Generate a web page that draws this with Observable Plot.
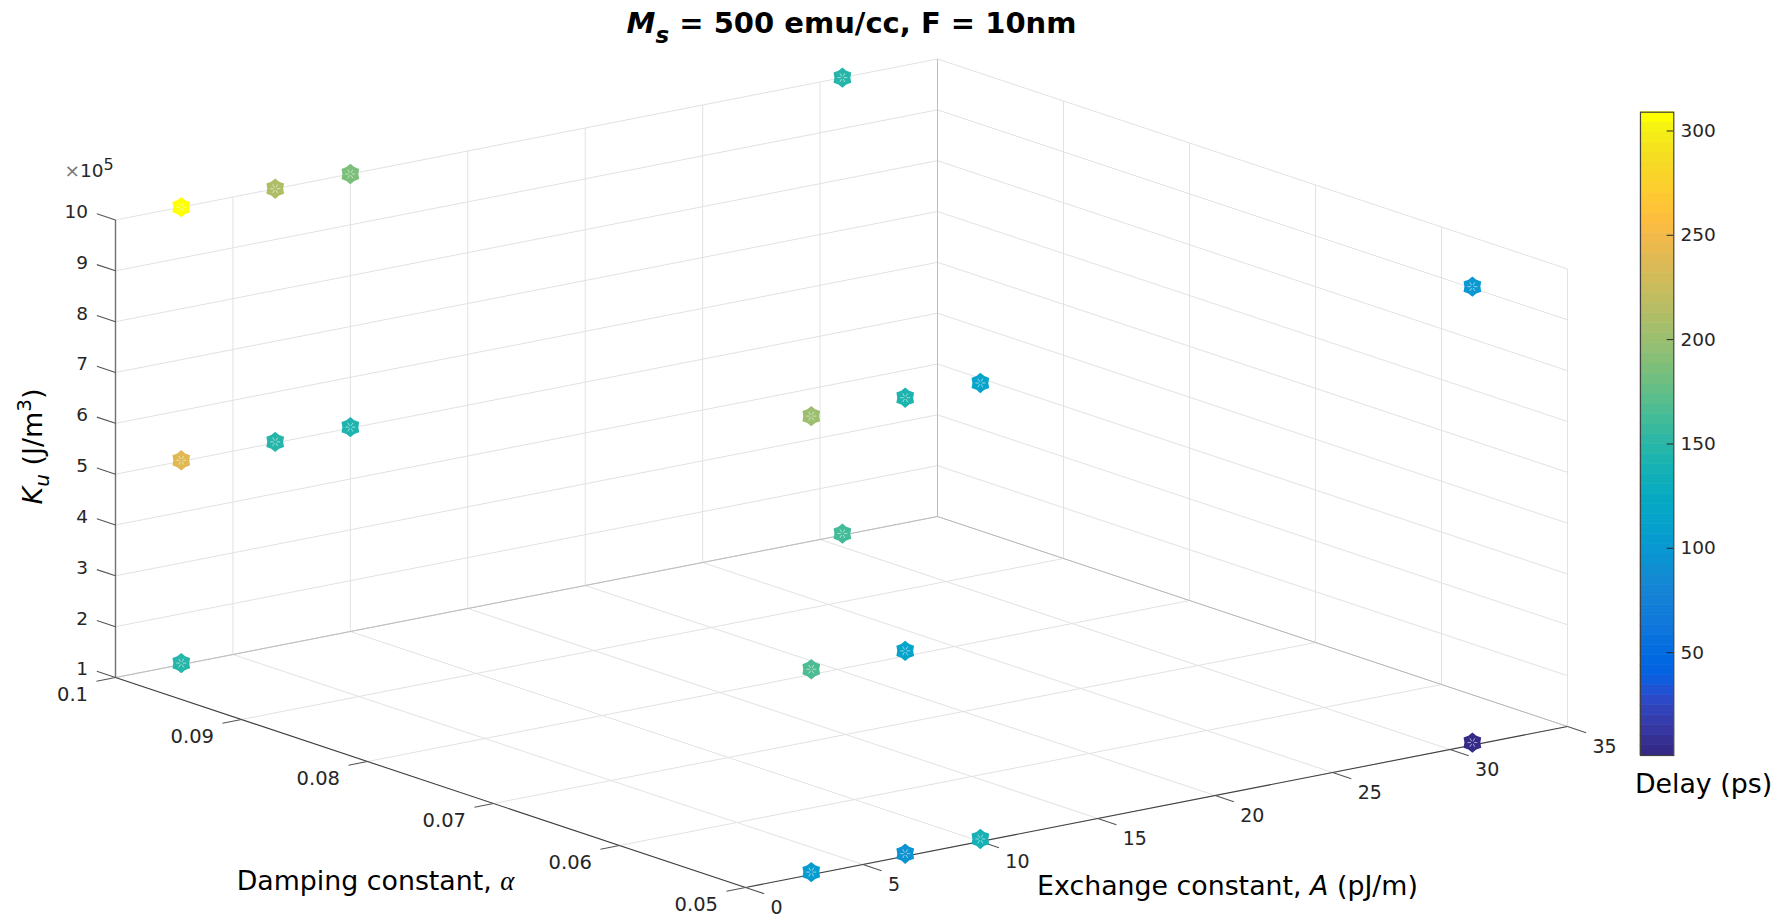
<!DOCTYPE html>
<html><head><meta charset="utf-8">
<style>html,body{margin:0;padding:0;background:#fff;overflow:hidden}
#wrap{position:relative;width:1792px;height:917px}
#wrap svg{position:absolute;display:block;overflow:visible;background:transparent}
</style>
<script src="https://cdn.jsdelivr.net/npm/d3@7"></script>
<script src="https://cdn.jsdelivr.net/npm/@observablehq/plot@0.6"></script>
</head><body><div id="wrap"></div>
<script>
// ---- data ----
const pointA     = [2.8,6.8,10,30.95, 2.8,6.8,10, 2.8,30.95, 2.8,6.8,10,30.95, 2.8,6.8, 2.8,6.8,10,30.95];
const pointAlpha = [0.1,0.1,0.1,0.1, 0.1,0.1,0.1, 0.1,0.1, 0.05,0.05,0.05,0.05, 0.05,0.05, 0.05,0.05,0.05,0.05];
const pointK     = [10,10,10,10, 5.02,5.02,5.02, 1.03,1.03, 10.02,10.02,10.02,10.02, 5.04,5.04, 1.05,1.05,1.05,1.05];
const pointDelay = [309,212,185,150, 238,150,143, 150,163, 200,142,115,98, 165,112, 105,95,138,4];

const ticksA = [0,5,10,15,20,25,30,35];
const ticksAlpha = [0.05,0.06,0.07,0.08,0.09,0.1];
const ticksK = [1,2,3,4,5,6,7,8,9,10];
const ticksDelay = [50,100,150,200,250,300];
const delayDomain = [0.7,309];

const parulaFlat = [
.2081,.1663,.5292,.2116,.1898,.5777,.2123,.2138,.6270,.2081,.2386,.6771,.1959,.2645,.7279,.1707,.2919,.7792,
.1253,.3242,.8303,.0591,.3598,.8683,.0117,.3875,.8820,.0060,.4086,.8828,.0165,.4266,.8786,.0329,.4430,.8720,
.0498,.4586,.8641,.0629,.4737,.8554,.0723,.4887,.8467,.0779,.5040,.8384,.0793,.5200,.8312,.0749,.5375,.8263,
.0641,.5570,.8240,.0488,.5772,.8228,.0343,.5966,.8199,.0265,.6137,.8135,.0239,.6287,.8038,.0231,.6418,.7913,
.0228,.6535,.7768,.0267,.6642,.7607,.0384,.6743,.7436,.0590,.6838,.7254,.0843,.6928,.7062,.1133,.7015,.6859,
.1453,.7098,.6646,.1801,.7177,.6424,.2178,.7250,.6193,.2586,.7317,.5954,.3022,.7376,.5712,.3482,.7424,.5473,
.3953,.7459,.5244,.4420,.7481,.5033,.4871,.7491,.4840,.5300,.7491,.4661,.5709,.7485,.4494,.6099,.7473,.4337,
.6473,.7456,.4188,.6834,.7435,.4044,.7184,.7411,.3905,.7525,.7384,.3768,.7858,.7356,.3633,.8185,.7327,.3498,
.8507,.7299,.3360,.8824,.7274,.3217,.9139,.7258,.3063,.9450,.7261,.2886,.9739,.7314,.2666,.9938,.7455,.2403,
.9990,.7653,.2164,.9955,.7861,.1967,.9880,.8066,.1794,.9789,.8271,.1633,.9697,.8481,.1475,.9626,.8705,.1309,
.9589,.8949,.1132,.9598,.9218,.0948,.9661,.9514,.0755,1,1,0];

// ---- camera: orthographic view of the 3-D box, as image anchors ----
const view = {ox:745, oy:887, ax:822, ay:-161, bx:-630, by:-210, kz:-457.5};
const ext = {A:[0,35], alpha:[0.05,0.1], K:[1,10]};
function project(A, alpha, K){
  const a=(A-ext.A[0])/(ext.A[1]-ext.A[0]), b=(alpha-ext.alpha[0])/(ext.alpha[1]-ext.alpha[0]), k=(K-ext.K[0])/(ext.K[1]-ext.K[0]);
  return [view.ox+a*view.ax+b*view.bx, view.oy+a*view.ay+b*view.by+k*view.kz];
}
function seg(p,q){const [x1,y1]=project(...p),[x2,y2]=project(...q);return {x1,y1,x2,y2};}
const [A0,A1]=ext.A,[B0,B1]=ext.alpha,[K0,K1]=ext.K;

const grid=[];
for(const A of ticksA){grid.push(seg([A,B0,K0],[A,B1,K0]));grid.push(seg([A,B1,K0],[A,B1,K1]));}
for(const b of ticksAlpha){grid.push(seg([A0,b,K0],[A1,b,K0]));grid.push(seg([A1,b,K0],[A1,b,K1]));}
for(const K of ticksK){grid.push(seg([A0,B1,K],[A1,B1,K]));grid.push(seg([A1,B1,K],[A1,B0,K]));}
const edges=[seg([A0,B1,K0],[A1,B1,K0]),seg([A1,B1,K0],[A1,B0,K0]),seg([A1,B1,K0],[A1,B1,K1])];
const axesDark=[seg([A0,B0,K0],[A0,B1,K0]),seg([A0,B0,K0],[A1,B0,K0])];
const axisK=[seg([A0,B1,K0],[A0,B1,K1])];
const tickLenAlpha=0.00148, tickLenA=0.81;
const tickSegs=[
  ...ticksK.map(K=>seg([A0,B1,K],[A0,B1+tickLenAlpha,K])),
  ...ticksAlpha.map(b=>seg([A0,b,K0],[A0-tickLenA,b,K0])),
  ...ticksA.map(A=>seg([A,B0,K0],[A,B0-tickLenAlpha,K0]))
];
const points=pointA.map((A,i)=>{const [x,y]=project(A,pointAlpha[i],pointK[i]);return {x,y,delay:pointDelay[i]};});

const parula=d3.range(64).map(i=>d3.rgb(parulaFlat[3*i]*255,parulaFlat[3*i+1]*255,parulaFlat[3*i+2]*255).formatHex());
const binW=(delayDomain[1]-delayDomain[0])/64;
const thresholds=d3.range(1,64).map(i=>delayDomain[0]+i*binW);
const colorScale={type:"threshold",domain:thresholds,range:parula};

const hexagram={draw(c,size){const R=Math.sqrt(size/Math.PI),r=R*0.78;
  for(let i=0;i<12;i++){const t=Math.PI/2+i*Math.PI/6,q=i%2?r:R;
    const x=q*Math.cos(t),y=q*Math.sin(t); i?c.lineTo(x,y):c.moveTo(x,y);} c.closePath();}};
const flake={draw(c,size){const R=Math.sqrt(size/Math.PI);
  for(let i=0;i<6;i++){const t=i*Math.PI/3;
    c.moveTo(.3*R*Math.cos(t),.3*R*Math.sin(t));c.lineTo(R*Math.cos(t),R*Math.sin(t));}}};

const sans="DejaVu Sans";
const tickColor="#262626";
const kLabels=ticksK.map(K=>{const [x,y]=project(A0,B1,K);return {x:x-27.5,y:y-8,t:String(K)};});
const alphaLabels=ticksAlpha.map(b=>{const [x,y]=project(A0,b,K0);return {x:x-27.5,y:y+17,t:String(b)};});
const aLabels=ticksA.map(A=>{const [x,y]=project(A,B0,K0);return {x:x+25,y:y+20,t:String(A)};});

const titleText="Ms = 500 emu/cc, F = 10nm", dampText="Damping constant, α", exchText="Exchange constant, A (pJ/m)",
      kuText="Ku (J/m3)", expText="×105";

const main=Plot.plot({
  width:1792,height:917,margin:0,
  x:{domain:[0,1792],range:[0,1792],axis:null},
  y:{domain:[0,917],range:[0,917],axis:null},
  color:colorScale,
  marks:[
    Plot.link(grid,{x1:"x1",y1:"y1",x2:"x2",y2:"y2",stroke:"#e2e2e2",strokeWidth:1}),
    Plot.link(edges,{x1:"x1",y1:"y1",x2:"x2",y2:"y2",stroke:"#bdbdbd",strokeWidth:1}),
    Plot.link(axisK,{x1:"x1",y1:"y1",x2:"x2",y2:"y2",stroke:"#707070",strokeWidth:1.4}),
    Plot.link(axesDark,{x1:"x1",y1:"y1",x2:"x2",y2:"y2",stroke:"#404040",strokeWidth:1.1}),
    Plot.link(tickSegs,{x1:"x1",y1:"y1",x2:"x2",y2:"y2",stroke:"#555",strokeWidth:1.1}),
    Plot.text(kLabels,{x:"x",y:"y",text:"t",textAnchor:"end",fontSize:18.5,fontFamily:sans,fill:tickColor}),
    Plot.text(alphaLabels,{x:"x",y:"y",text:"t",textAnchor:"end",fontSize:19.5,fontFamily:sans,fill:tickColor}),
    Plot.text(aLabels,{x:"x",y:"y",text:"t",textAnchor:"start",fontSize:19,fontFamily:sans,fill:tickColor}),
    Plot.dot(points,{x:"x",y:"y",fill:"delay",symbol:hexagram,r:10.2}),
    Plot.dot(points,{x:"x",y:"y",symbol:flake,r:5,stroke:"#fff",fill:"none",strokeWidth:0.7,strokeOpacity:0.8}),
    Plot.text([titleText],{x:()=>851,y:()=>23,text:d=>d,fontSize:29,fontWeight:"bold",fontFamily:sans,fill:"#000"}),
    Plot.text([dampText],{x:()=>375,y:()=>881,text:d=>d,fontSize:26.8,fontFamily:sans,fill:"#000"}),
    Plot.text([exchText],{x:()=>1227,y:()=>886,text:d=>d,fontSize:26.8,fontFamily:sans,fill:"#000"}),
    Plot.text(["Delay (ps)"],{x:()=>1703,y:()=>784,text:d=>d,fontSize:26.8,fontFamily:sans,fill:"#000"}),
    Plot.text([kuText],{x:()=>33,y:()=>446,text:d=>d,rotate:-90,fontSize:27,fontFamily:sans,fill:"#000"}),
    Plot.text([expText],{x:()=>64,y:()=>171,text:d=>d,textAnchor:"start",fontSize:18.5,fontFamily:sans,fill:tickColor})
  ]
});

// Rich text (italic, sub- and superscripts) inside the library's text marks
function rich(str,html){
  d3.select(main).selectAll("text").filter(function(){return this.textContent===str;}).html(html);
}
rich(titleText,'<tspan font-style="italic">M</tspan><tspan font-style="italic" font-size="23" dy="10">s</tspan><tspan dy="-10"> = 500 emu/cc, F = 10nm</tspan>');
rich(dampText,'Damping constant, <tspan font-family="Liberation Serif" font-style="italic">α</tspan>');
rich(exchText,'Exchange constant, <tspan font-style="italic">A</tspan> (pJ/m)');
rich(kuText,'<tspan font-style="italic">K</tspan><tspan font-style="italic" font-size="20" dy="7">u</tspan><tspan dy="-7"> (J/m</tspan><tspan font-size="20" dy="-11">3</tspan><tspan dy="11">)</tspan>');
rich(expText,'<tspan fill="#777">×</tspan>10<tspan font-size="16" dy="-7">5</tspan>');

// Colorbar
const levels=parula.map((c,i)=>({v0:delayDomain[0]+i*binW,v1:delayDomain[0]+(i+1)*binW,mid:delayDomain[0]+(i+.5)*binW}));
const bar=Plot.plot({
  width:192,height:680,marginTop:21.7,marginBottom:15,marginLeft:40,marginRight:118.7,
  x:{domain:[0,1],axis:null},
  y:{domain:delayDomain,axis:null},
  color:colorScale,
  marks:[
    Plot.rectY(levels,{x1:0,x2:1,y1:"v0",y2:"v1",fill:"mid",stroke:"mid",strokeWidth:0.6}),
    Plot.ruleY(ticksDelay,{x1:0.8,x2:1,stroke:"#262626",strokeWidth:1}),
    Plot.frame({stroke:"#404040",strokeWidth:1.2}),
    Plot.axisY(ticksDelay,{anchor:"right",tickSize:0,tickPadding:6.7,fontSize:18.5,fontFamily:sans,color:tickColor,label:null})
  ]
});
bar.style.left="1600px";bar.style.top="90px";
main.style.left="0";main.style.top="0";
const wrap=document.getElementById("wrap");
wrap.appendChild(main);wrap.appendChild(bar);
</script></body></html>
